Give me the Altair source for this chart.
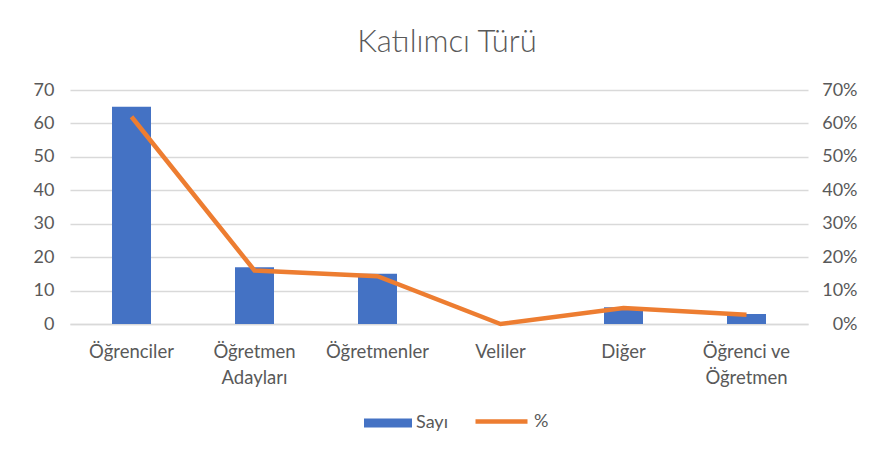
import altair as alt
import pandas as pd

categories = ["Öğrenciler", "Öğretmen\nAdayları", "Öğretmenler", "Veliler", "Diğer", "Öğrenci ve\nÖğretmen"]
counts = [65, 17, 15, 0, 5, 3]
percents = [0.62, 0.16, 0.143, 0.0, 0.048, 0.028]

df = pd.DataFrame({"cat": categories, "Sayı": counts, "pct": percents})

FONT = "Lato"
GRAY = "#595959"
BLUE = "#4472C4"
ORANGE = "#ED7D31"

x = alt.X("cat:N", sort=categories, title=None,
          scale=alt.Scale(paddingInner=0.0, paddingOuter=0.0),
          axis=alt.Axis(labelAngle=0, labelExpr="split(datum.label, '\\n')",
                        labelPadding=18, labelLineHeight=26, labelFontSize=18.5,
                        labelColor=GRAY, labelFont=FONT, ticks=False,
                        domainColor="#d9d9d9", domainWidth=1.5))

bars = alt.Chart(df).mark_bar(size=39, color=BLUE).encode(
    x=x,
    y=alt.Y("Sayı:Q", title=None,
            scale=alt.Scale(domain=[0, 70]),
            axis=alt.Axis(values=[0, 10, 20, 30, 40, 50, 60, 70], labelFontSize=18,
                          labelColor=GRAY, labelFont=FONT, ticks=False, domain=False,
                          labelPadding=16, gridColor="#d9d9d9", gridWidth=1.5)),
    color=alt.Color("s:N", scale=alt.Scale(domain=["Sayı"], range=[BLUE]),
                    legend=alt.Legend(title=None, orient="none", legendX=294, legendY=309,
                                      symbolType="M-1,-0.19H1V0.19H-1Z", symbolSize=2304,
                                      symbolStrokeWidth=0, labelFontSize=18, labelColor=GRAY,
                                      labelFont=FONT, symbolOpacity=1)),
).transform_calculate(s="'Sayı'")

line = alt.Chart(df).mark_line(color=ORANGE, strokeWidth=4.5).encode(
    x=x,
    y=alt.Y("pct:Q", title=None,
            scale=alt.Scale(domain=[0, 0.7]),
            axis=alt.Axis(orient="right", format=".0%",
                          values=[0, 0.1, 0.2, 0.3, 0.4, 0.5, 0.6, 0.7],
                          labelFontSize=18, labelColor=GRAY, labelFont=FONT,
                          ticks=False, domain=False, grid=False,
                          labelAlign="right", labelPadding=49)),
    color=alt.Color("p:N", scale=alt.Scale(domain=["%"], range=[ORANGE]),
                    legend=alt.Legend(title=None, orient="none", legendX=403, legendY=303,
                                      symbolType="stroke", symbolSize=2704,
                                      symbolStrokeWidth=4.5, labelFontSize=18,
                                      labelColor=GRAY, labelFont=FONT)),
).transform_calculate(p="'%'")

chart = alt.layer(bars, line).resolve_scale(y="independent", color="independent").properties(
    width=738, height=234,
    autosize=alt.AutoSizeParams(type="none"),
    padding={"left": 62, "top": 82, "right": 66, "bottom": 122},
    title=alt.TitleParams("Katılımcı Türü", fontSize=31, font=FONT, fontWeight=300,
                          color=GRAY, anchor="middle", offset=22, dx=8),
).configure_view(stroke=None).configure_legend(labelLimit=300)

chart.save("out.html", embed_options={"renderer": "svg", "actions": False})
